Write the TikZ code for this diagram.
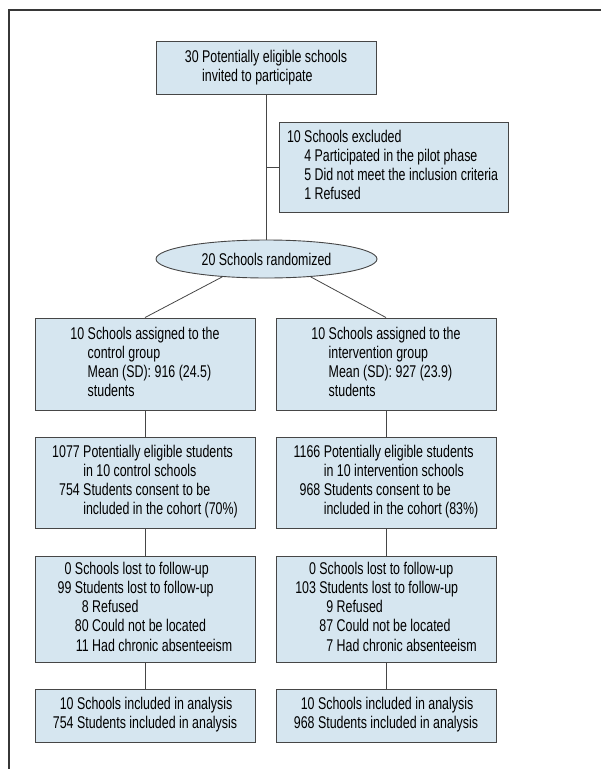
\documentclass[tikz,border=0pt]{standalone}
\usepackage{fontspec}
\usepackage{tikz}
\usetikzlibrary{shapes.geometric}
\usepackage{xcolor}
\newfontfamily\flowfont[FakeStretch=0.73]{Liberation Sans}
\definecolor{boxfill}{RGB}{214,230,240}
\definecolor{boxline}{RGB}{70,70,70}
\definecolor{frameline}{RGB}{55,55,55}

\begin{document}
\begin{tikzpicture}[x=1pt, y=-1pt,
  flowbox/.style={draw=boxline, fill=boxfill, line width=0.9pt, inner sep=0pt,
    minimum width=220pt, font={\flowfont\fontsize{17}{19.1}\selectfont}},
  link/.style={draw=boxline, line width=0.8pt}]
\useasboundingbox (0,0) rectangle (601,769);
% Frame
\draw[frameline, line width=1.6pt] (9,769) -- (9,10) -- (601,10);

% Enrolment
\node[flowbox, minimum height=53pt] (invited) at (266,68.4) {\begin{tabular}{@{}r@{\ }l@{}}
30 & Potentially eligible schools\\
 & invited to participate
\end{tabular}};
\node[flowbox, minimum width=229pt, minimum height=90pt] (excluded) at (393.5,167) {\makebox[213pt][l]{\begin{tabular}{@{}r@{\ }l@{}}
10 & Schools excluded\\
 & 4 Participated in the pilot phase\\
 & 5 Did not meet the inclusion criteria\\
 & 1 Refused
\end{tabular}}};
\node[flowbox, ellipse, minimum width=221pt, minimum height=38pt] (rand) at (266.5,259) {20 Schools randomized};

% Control arm
\node[flowbox, minimum height=92pt] (ctl) at (145,364) {\begin{tabular}{@{}r@{\ }l@{}}
10 & Schools assigned to the\\
 & control group\\
 & Mean (SD): 916 (24.5)\\
 & students
\end{tabular}};
\node[flowbox, minimum height=91pt] (ctlelig) at (145,482.5) {\begin{tabular}{@{}r@{\ }l@{}}
1077 & Potentially eligible students\\
 & in 10 control schools\\
754 & Students consent to be\\
 & included in the cohort (70\%)
\end{tabular}};
\node[flowbox, minimum height=106pt] (ctllost) at (145,609) {\begin{tabular}{@{}r@{\ }r@{\ }l@{}}
0 & \multicolumn{2}{@{}l@{}}{Schools lost to follow-up}\\
99 & \multicolumn{2}{@{}l@{}}{Students lost to follow-up}\\
 & 8 & Refused\\
 & 80 & Could not be located\\
 & 11 & Had chronic absenteeism
\end{tabular}};
\node[flowbox, minimum height=53pt] (ctlanal) at (145,715.5) {\begin{tabular}{@{}r@{\ }l@{}}
10 & Schools included in analysis\\
754 & Students included in analysis
\end{tabular}};

% Intervention arm
\node[flowbox, minimum height=92pt] (itv) at (386,364) {\begin{tabular}{@{}r@{\ }l@{}}
10 & Schools assigned to the\\
 & intervention group\\
 & Mean (SD): 927 (23.9)\\
 & students
\end{tabular}};
\node[flowbox, minimum height=91pt] (itvelig) at (386,482.5) {\begin{tabular}{@{}r@{\ }l@{}}
1166 & Potentially eligible students\\
 & in 10 intervention schools\\
968 & Students consent to be\\
 & included in the cohort (83\%)
\end{tabular}};
\node[flowbox, minimum height=106pt] (itvlost) at (386,609) {\begin{tabular}{@{}r@{\ }r@{\ }l@{}}
0 & \multicolumn{2}{@{}l@{}}{Schools lost to follow-up}\\
103 & \multicolumn{2}{@{}l@{}}{Students lost to follow-up}\\
 & 9 & Refused\\
 & 87 & Could not be located\\
 & 7 & Had chronic absenteeism
\end{tabular}};
\node[flowbox, minimum height=53pt] (itvanal) at (386,715.5) {\begin{tabular}{@{}r@{\ }l@{}}
10 & Schools included in analysis\\
968 & Students included in analysis
\end{tabular}};

% Connectors
\draw[link] (invited.south) -- (invited.south |- rand.north);
\draw[link] (invited.south |- excluded.west) -- (excluded.west);
\draw[link] (rand.202) -- (ctl.north);
\draw[link] (rand.338) -- (itv.north);
\draw[link] (ctl) -- (ctlelig);
\draw[link] (ctlelig) -- (ctllost);
\draw[link] (ctllost) -- (ctlanal);
\draw[link] (itv) -- (itvelig);
\draw[link] (itvelig) -- (itvlost);
\draw[link] (itvlost) -- (itvanal);
\end{tikzpicture}
\end{document}
